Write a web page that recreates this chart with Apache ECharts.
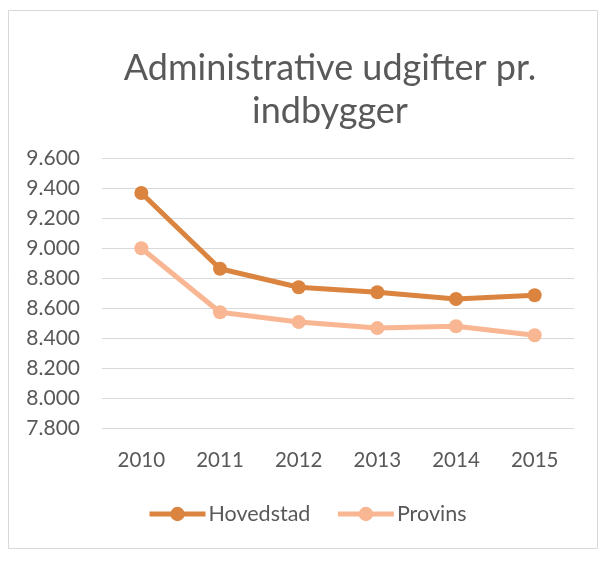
<!DOCTYPE html>
<html><head><meta charset="utf-8">
<script src="https://cdn.jsdelivr.net/npm/echarts@6/dist/echarts.min.js"></script>
<style>html,body{margin:0;padding:0;background:#fff}#c{width:603px;height:562px}</style>
</head><body><div id="c"></div>
<script>
const categories = ['2010','2011','2012','2013','2014','2015'];
const hovedstad = [9367, 8862, 8738, 8705, 8660, 8685];
const provins = [8998, 8572, 8507, 8466, 8478, 8418];
const yTicks = {min: 7800, max: 9600, interval: 200};

const chart = echarts.init(document.getElementById('c'), null, {renderer: 'canvas'});
const font = 'Lato, "Noto Sans", sans-serif';
const fmt = v => String(v).replace(/\B(?=(\d{3})+(?!\d))/g, '.');
chart.setOption({
  animation: false,
  textStyle: {fontFamily: font},
  graphic: [{
    type: 'rect', shape: {x: 8.5, y: 10.5, width: 589, height: 538},
    style: {fill: 'none', stroke: '#d9d9d9', lineWidth: 1}, z: -1
  }],
  title: {
    text: 'Administrative udgifter pr.\nindbygger',
    left: 325, top: 42, textAlign: 'center',
    textStyle: {fontSize: 36, fontWeight: 'normal', color: '#595959', lineHeight: 43, fontFamily: font}
  },
  legend: {
    data: ['Hovedstad', 'Provins'], top: 498, left: 142,
    itemWidth: 56, itemHeight: 18, itemGap: 25,
    lineStyle: {width: 5},
    textStyle: {fontSize: 21.5, color: '#595959', fontFamily: font, padding: [0, 0, 0, -2]}
  },
  grid: {left: 102, right: 29, top: 158, bottom: 134, containLabel: false},
  xAxis: {
    type: 'category', data: categories, boundaryGap: true,
    axisLine: {show: false}, axisTick: {show: false},
    axisLabel: {fontSize: 20.5, color: '#595959', margin: 22, fontFamily: font}
  },
  yAxis: {
    type: 'value', min: yTicks.min, max: yTicks.max, interval: yTicks.interval,
    axisLine: {show: false}, axisTick: {show: false},
    axisLabel: {fontSize: 21, color: '#595959', margin: 22, formatter: fmt, fontFamily: font},
    splitLine: {lineStyle: {color: '#d9d9d9', width: 1}}
  },
  series: [
    {name: 'Hovedstad', type: 'line', data: hovedstad, symbol: 'circle', symbolSize: 14,
     lineStyle: {width: 5, color: '#DA843F'}, itemStyle: {color: '#DA843F'}},
    {name: 'Provins', type: 'line', data: provins, symbol: 'circle', symbolSize: 14,
     lineStyle: {width: 5, color: '#F8B692'}, itemStyle: {color: '#F8B692'}}
  ]
});
</script></body></html>
